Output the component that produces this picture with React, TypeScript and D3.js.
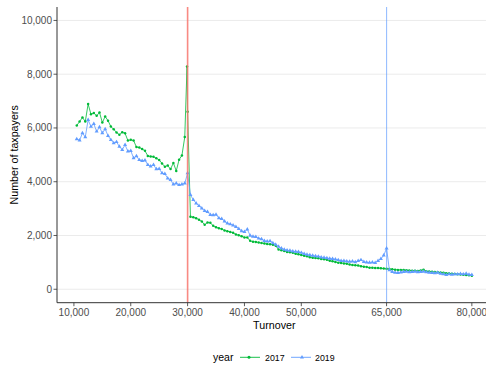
import * as d3 from "d3";

// turnover bins (lower edge of each 500 bin)
const turnover = [
  10500, 11000, 11500, 12000, 12500, 13000, 13500, 14000, 14500, 15000,
  15500, 16000, 16500, 17000, 17500, 18000, 18500, 19000, 19500, 20000,
  20500, 21000, 21500, 22000, 22500, 23000, 23500, 24000, 24500, 25000,
  25500, 26000, 26500, 27000, 27500, 28000, 28500, 29000, 29500, 30000,
  30500, 31000, 31500, 32000, 32500, 33000, 33500, 34000, 34500, 35000,
  35500, 36000, 36500, 37000, 37500, 38000, 38500, 39000, 39500, 40000,
  40500, 41000, 41500, 42000, 42500, 43000, 43500, 44000, 44500, 45000,
  45500, 46000, 46500, 47000, 47500, 48000, 48500, 49000, 49500, 50000,
  50500, 51000, 51500, 52000, 52500, 53000, 53500, 54000, 54500, 55000,
  55500, 56000, 56500, 57000, 57500, 58000, 58500, 59000, 59500, 60000,
  60500, 61000, 61500, 62000, 62500, 63000, 63500, 64000, 64500, 65000,
  65500, 66000, 66500, 67000, 67500, 68000, 68500, 69000, 69500, 70000,
  70500, 71000, 71500, 72000, 72500, 73000, 73500, 74000, 74500, 75000,
  75500, 76000, 76500, 77000, 77500, 78000, 78500, 79000, 79500, 80000,
];

const taxpayers2017 = [
  6090, 6240, 6390, 6240, 6890, 6510, 6560, 6450, 6580, 6200,
  6430, 6270, 6050, 5950, 5830, 5750, 5840, 5800, 5530, 5560,
  5530, 5290, 5270, 5220, 5150, 4960, 4940, 4930, 4870, 4810,
  4680, 4560, 4600, 4470, 4700, 4400, 4820, 4980, 5660, 6600,
  2700, 2680, 2640, 2590, 2520, 2400, 2480, 2470, 2360, 2310,
  2270, 2240, 2190, 2160, 2130, 2100, 2040, 2010, 1970, 1930,
  1930, 1800, 1770, 1760, 1740, 1720, 1700, 1680, 1670, 1660,
  1620, 1480, 1450, 1420, 1390, 1380, 1360, 1320, 1300, 1270,
  1250, 1230, 1190, 1170, 1160, 1150, 1130, 1120, 1100, 1060,
  1040, 1010, 990, 980, 960, 950, 920, 900, 890, 880,
  860, 840, 830, 800, 800, 790, 790, 780, 770, 760,
  750, 740, 730, 720, 720, 720, 710, 700, 690, 690,
  680, 700, 730, 670, 660, 650, 640, 630, 620, 610,
  600, 590, 580, 570, 560, 550, 540, 530, 520, 500,
];

// extra bunching bin just below the 30,000 threshold (2017 only)
const spikeTurnover2017 = [29900];
const spikeTaxpayers2017 = [8290];

const taxpayers2019 = [
  5590, 5540, 5810, 5660, 6300, 6050, 6150, 5870, 6030, 5810,
  5960, 5710, 5560, 5440, 5480, 5310, 5190, 5370, 5130, 5150,
  4880, 4950, 4810, 4780, 4800, 4630, 4570, 4630, 4470, 4480,
  4320, 4290, 4130, 4070, 3900, 3940, 3880, 3900, 3940, 4320,
  3510, 3330, 3200, 3100, 3010, 2920, 2880, 2770, 2760, 2780,
  2650, 2620, 2530, 2450, 2420, 2380, 2320, 2250, 2160, 2140,
  2230, 2000, 1960, 1950, 1890, 1870, 1800, 1780, 1790, 1720,
  1660, 1590, 1520, 1480, 1450, 1440, 1410, 1400, 1390, 1360,
  1320, 1290, 1270, 1250, 1230, 1220, 1190, 1180, 1160, 1140,
  1130, 1110, 1090, 1060, 1060, 1040, 1030, 1040, 1010, 1060,
  1090, 1020, 1000, 990, 1000, 980, 1060, 1130, 1260, 1520,
  710, 650, 620, 610, 630, 650, 660, 640, 650, 660,
  640, 650, 660, 640, 620, 610, 600, 620, 580, 560,
  540, 560, 550, 560, 560, 570, 560, 580, 550, 540,
];

const xTicks = [10000, 20000, 30000, 40000, 50000, 65000, 80000];
const yTicks = [0, 2000, 4000, 6000, 8000, 10000];
const thresholds = [30000, 65000];
const years = ["2017", "2019"];

const width = 486;
const height = 370;
const green = "#00BA38";
const blue = "#619CFF";
const red = "#F8766D";
const font = "Liberation Sans, Arial, sans-serif";

type Pt = { x: number; y: number };

export default function App() {
  const left = 57, right = 491.6, top = 7, bottom = 302.7;

  const x = d3.scaleLinear().domain([7025, 83475]).range([left, right]);
  const y = d3.scaleLinear().domain([-500, 10500]).range([bottom, top]);

  const s2017: Pt[] = turnover
    .map((t, i) => ({ x: t, y: taxpayers2017[i] }))
    .concat(spikeTurnover2017.map((t, i) => ({ x: t, y: spikeTaxpayers2017[i] })))
    .sort((a, b) => a.x - b.x);
  const s2019: Pt[] = turnover.map((t, i) => ({ x: t, y: taxpayers2019[i] }));

  const line = d3
    .line<Pt>()
    .x((d) => x(d.x))
    .y((d) => y(d.y));

  const tri = d3.symbol().type(d3.symbolTriangle).size(7)();
  const fmt = d3.format(",");

  return (
    <div style={{ position: "absolute", left: 0, top: 0 }}>
      <svg width={width} height={height} style={{ display: "block", background: "#fff" }}>
        <defs>
          <clipPath id="panel">
            <rect x={left} y={top} width={right - left} height={bottom - top} />
          </clipPath>
        </defs>

        {/* horizontal grid */}
        {yTicks.map((t) => (
          <line key={t} x1={left} x2={right} y1={y(t)} y2={y(t)} stroke="#EBEBEB" strokeWidth={1} />
        ))}

        <g clipPath="url(#panel)">
          <path d={line(s2017) ?? ""} fill="none" stroke={green} strokeWidth={0.8} />
          {s2017.map((d, i) => (
            <circle key={i} cx={x(d.x)} cy={y(d.y)} r={1.25} fill={green} />
          ))}
          <path d={line(s2019) ?? ""} fill="none" stroke={blue} strokeWidth={0.8} />
          {s2019.map((d, i) => (
            <path key={i} d={tri} transform={`translate(${x(d.x)},${y(d.y)})`} fill={blue} />
          ))}

          {thresholds.map((t, i) => (
            <line
              key={t}
              x1={x(t)}
              x2={x(t)}
              y1={top}
              y2={bottom}
              stroke={i === 0 ? red : blue}
              strokeOpacity={i === 0 ? 0.85 : 0.65}
              strokeWidth={i === 0 ? 1.6 : 1.1}
            />
          ))}
        </g>

        {/* axes */}
        <line x1={left} x2={left} y1={top} y2={bottom} stroke="#333" strokeWidth={1} />
        <line x1={left} x2={right} y1={bottom} y2={bottom} stroke="#333" strokeWidth={1} />

        {yTicks.map((t) => (
          <g key={t}>
            <line x1={left - 3.5} x2={left} y1={y(t)} y2={y(t)} stroke="#333" strokeWidth={0.8} />
            <text
              x={left - 5}
              y={y(t)}
              dy="0.35em"
              textAnchor="end"
              fontFamily={font}
              fontSize={10}
              fill="#4D4D4D"
            >
              {fmt(t)}
            </text>
          </g>
        ))}

        {xTicks.map((t) => (
          <g key={t}>
            <line x1={x(t)} x2={x(t)} y1={bottom} y2={bottom + 3.5} stroke="#333" strokeWidth={0.8} />
            <text
              x={x(t)}
              y={bottom + 12.8}
              textAnchor="middle"
              fontFamily={font}
              fontSize={10}
              fill="#4D4D4D"
            >
              {fmt(t)}
            </text>
          </g>
        ))}

        <text x={(left + right) / 2} y={329} textAnchor="middle" fontFamily={font} fontSize={10.7} fill="#000">
          Turnover
        </text>
        <text
          transform={`translate(18,${(top + bottom) / 2}) rotate(-90)`}
          textAnchor="middle"
          fontFamily={font}
          fontSize={10.7}
          fill="#000"
        >
          Number of taxpayers
        </text>

        {/* legend */}
        <g fontFamily={font}>
          <text x={213} y={361} fontSize={10.5} fill="#000">
            year
          </text>
          {years.map((yr, i) => {
            const kx = i === 0 ? 240 : 291;
            const col = i === 0 ? green : blue;
            return (
              <g key={yr}>
                <line x1={kx} x2={kx + 20} y1={357.3} y2={357.3} stroke={col} strokeWidth={0.9} />
                {i === 0 ? (
                  <circle cx={kx + 9} cy={357.3} r={1.5} fill={col} />
                ) : (
                  <path d={tri} transform={`translate(${kx + 11},357.3)`} fill={col} />
                )}
                <text x={i === 0 ? 265 : 315} y={360.5} fontSize={8.8} fill="#000">
                  {yr}
                </text>
              </g>
            );
          })}
        </g>
      </svg>
    </div>
  );
}
